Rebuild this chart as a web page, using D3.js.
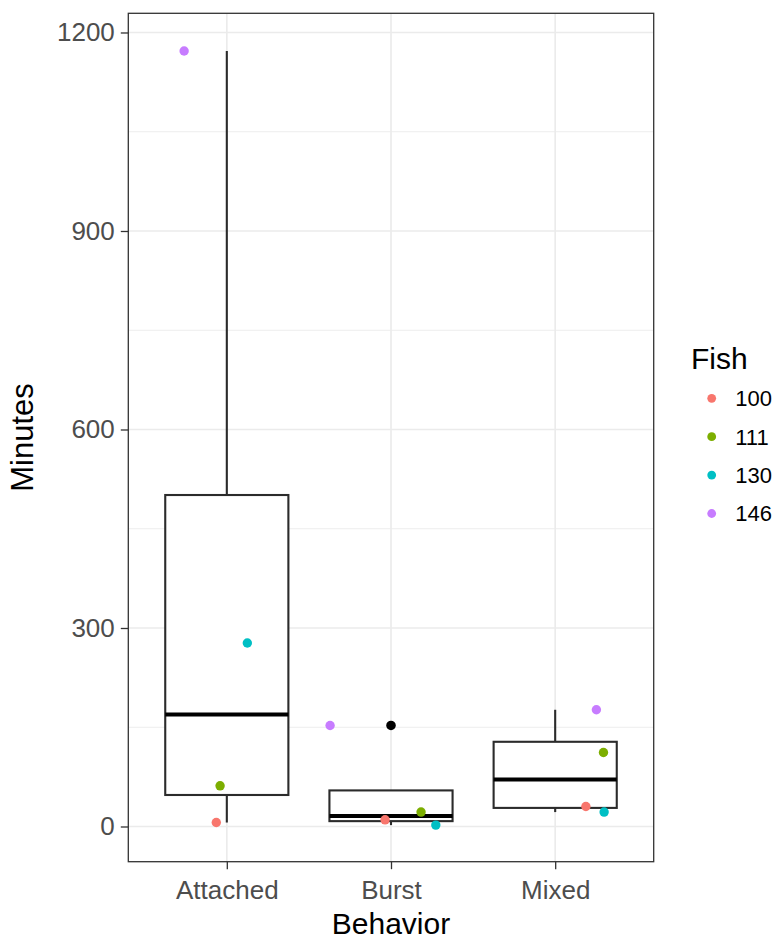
<!DOCTYPE html>
<html>
<head>
<meta charset="utf-8">
<script src="https://cdn.jsdelivr.net/npm/d3@7"></script>
<style>
  html, body { margin: 0; padding: 0; background: #ffffff; }
  svg { display: block; font-family: "Liberation Sans", Arial, Helvetica, sans-serif; }
</style>
</head>
<body>
<svg id="chart" width="780" height="942"></svg>
<script>
// ---- Data ----
const behaviors = ["Attached", "Burst", "Mixed"];
const fishIds = ["100", "111", "130", "146"];
const fishColors = ["#F8766D", "#7CAE00", "#00BFC4", "#C77CFF"];
// minutes for each fish (order of fishIds) within each behavior
const attachedMinutes = [6, 61.5, 277.3, 1172];
const burstMinutes = [10.1, 21.8, 2.1, 152.7];
const mixedMinutes = [30.2, 111.9, 21.8, 176.4];
// horizontal jitter of each point, in category-step units
const attachedJitter = [-0.064, -0.041, 0.125, -0.26];
const burstJitter = [-0.036, 0.183, 0.273, -0.371];
const mixedJitter = [0.187, 0.294, 0.298, 0.251];
const yTicks = [0, 300, 600, 900, 1200];
const yMinorTicks = [150, 450, 750, 1050];
const yLimits = [-53.2, 1229];
const boxWidth = 0.75;

const minutesByBehavior = [attachedMinutes, burstMinutes, mixedMinutes];
const jitterByBehavior = [attachedJitter, burstJitter, mixedJitter];

// ---- Layout ----
const panel = { left: 128.3, right: 653.7, top: 13.3, bottom: 861.7 };
const svg = d3.select("#chart");
svg.append("rect").attr("width", 780).attr("height", 942).attr("fill", "#ffffff");

const x = d3.scalePoint().domain(behaviors).range([panel.left, panel.right]).padding(0.6);
const y = d3.scaleLinear().domain(yLimits).range([panel.bottom, panel.top]);
const step = x.step();
const color = d3.scaleOrdinal().domain(fishIds).range(fishColors);

// ---- Grid ----
const grid = svg.append("g");
grid.selectAll("line.minor").data(yMinorTicks).join("line")
  .attr("x1", panel.left).attr("x2", panel.right)
  .attr("y1", d => y(d)).attr("y2", d => y(d))
  .attr("stroke", "#ebebeb").attr("stroke-width", 0.9);
grid.selectAll("line.majory").data(yTicks).join("line")
  .attr("x1", panel.left).attr("x2", panel.right)
  .attr("y1", d => y(d)).attr("y2", d => y(d))
  .attr("stroke", "#ebebeb").attr("stroke-width", 1.7);
grid.selectAll("line.majorx").data(behaviors).join("line")
  .attr("x1", d => x(d)).attr("x2", d => x(d))
  .attr("y1", panel.top).attr("y2", panel.bottom)
  .attr("stroke", "#ebebeb").attr("stroke-width", 1.7);

// ---- Boxplot stats (R type-7 quantiles) ----
const stats = behaviors.map((b, i) => {
  const vals = minutesByBehavior[i].slice().sort(d3.ascending);
  const q1 = d3.quantile(vals, 0.25), med = d3.quantile(vals, 0.5), q3 = d3.quantile(vals, 0.75);
  const iqr = q3 - q1;
  const inside = vals.filter(v => v >= q1 - 1.5 * iqr && v <= q3 + 1.5 * iqr);
  return {
    behavior: b, q1, med, q3,
    lo: d3.min(inside), hi: d3.max(inside),
    outliers: vals.filter(v => v < q1 - 1.5 * iqr || v > q3 + 1.5 * iqr)
  };
});

const boxG = svg.append("g");
const lineCol = "#2b2b2b";
stats.forEach(s => {
  const cx = x(s.behavior);
  const hw = boxWidth * step / 2;
  boxG.append("line").attr("x1", cx).attr("x2", cx).attr("y1", y(s.q3)).attr("y2", y(s.hi))
    .attr("stroke", lineCol).attr("stroke-width", 2.1);
  boxG.append("line").attr("x1", cx).attr("x2", cx).attr("y1", y(s.q1)).attr("y2", y(s.lo))
    .attr("stroke", lineCol).attr("stroke-width", 2.1);
  boxG.append("rect").attr("x", cx - hw).attr("width", 2 * hw)
    .attr("y", y(s.q3)).attr("height", y(s.q1) - y(s.q3))
    .attr("fill", "#ffffff").attr("stroke", lineCol).attr("stroke-width", 2.1);
  boxG.append("line").attr("x1", cx - hw).attr("x2", cx + hw).attr("y1", y(s.med)).attr("y2", y(s.med))
    .attr("stroke", "#000000").attr("stroke-width", 4);
  boxG.selectAll(null).data(s.outliers).enter().append("circle")
    .attr("cx", cx).attr("cy", d => y(d)).attr("r", 4.8).attr("fill", "#000000");
});

// ---- Jittered points ----
const points = [];
behaviors.forEach((b, i) => {
  fishIds.forEach((f, j) => {
    points.push({ behavior: b, fish: f, minutes: minutesByBehavior[i][j], jitter: jitterByBehavior[i][j] });
  });
});
svg.append("g").selectAll("circle").data(points).join("circle")
  .attr("cx", d => x(d.behavior) + d.jitter * step)
  .attr("cy", d => y(d.minutes))
  .attr("r", 4.7)
  .attr("fill", d => color(d.fish));

// ---- Panel border ----
svg.append("rect")
  .attr("x", panel.left).attr("y", panel.top)
  .attr("width", panel.right - panel.left).attr("height", panel.bottom - panel.top)
  .attr("fill", "none").attr("stroke", "#333333").attr("stroke-width", 1.3);

// ---- Axes ----
const yAxis = svg.append("g").attr("transform", `translate(${panel.left},0)`)
  .call(d3.axisLeft(y).tickValues(yTicks).tickSize(7.5).tickPadding(6).tickFormat(d3.format("d")));
yAxis.select(".domain").remove();
yAxis.selectAll(".tick line").attr("stroke", "#333333").attr("stroke-width", 1.3);
yAxis.selectAll(".tick text").attr("fill", "#4d4d4d").style("font-size", "26px")
  .style("font-family", "'Liberation Sans', Arial, Helvetica, sans-serif");

const xAxis = svg.append("g").attr("transform", `translate(0,${panel.bottom})`)
  .call(d3.axisBottom(x).tickSize(7.5).tickPadding(6));
xAxis.select(".domain").remove();
xAxis.selectAll(".tick line").attr("stroke", "#333333").attr("stroke-width", 1.3);
xAxis.selectAll(".tick text").attr("fill", "#4d4d4d").style("font-size", "26px")
  .style("font-family", "'Liberation Sans', Arial, Helvetica, sans-serif")
  .attr("y", 37.3).attr("dy", 0);

// ---- Axis titles ----
svg.append("text").attr("x", (panel.left + panel.right) / 2).attr("y", 934)
  .attr("text-anchor", "middle").attr("fill", "#000").style("font-size", "30px").text("Behavior");
svg.append("text")
  .attr("transform", `translate(33,${(panel.top + panel.bottom) / 2}) rotate(-90)`)
  .attr("text-anchor", "middle").attr("fill", "#000").style("font-size", "31px").text("Minutes");

// ---- Legend ----
const legend = svg.append("g");
legend.append("text").attr("x", 691).attr("y", 369).attr("fill", "#000")
  .style("font-size", "30px").text("Fish");
const items = legend.selectAll("g.item").data(fishIds).join("g")
  .attr("transform", (d, i) => `translate(711.7,${398.3 + i * 38.4})`);
items.append("circle").attr("r", 4.4).attr("fill", d => color(d));
items.append("text").attr("x", 23.5).attr("dy", "0.36em").attr("fill", "#000")
  .style("font-size", "22px").text(d => d);
</script>
</body>
</html>
